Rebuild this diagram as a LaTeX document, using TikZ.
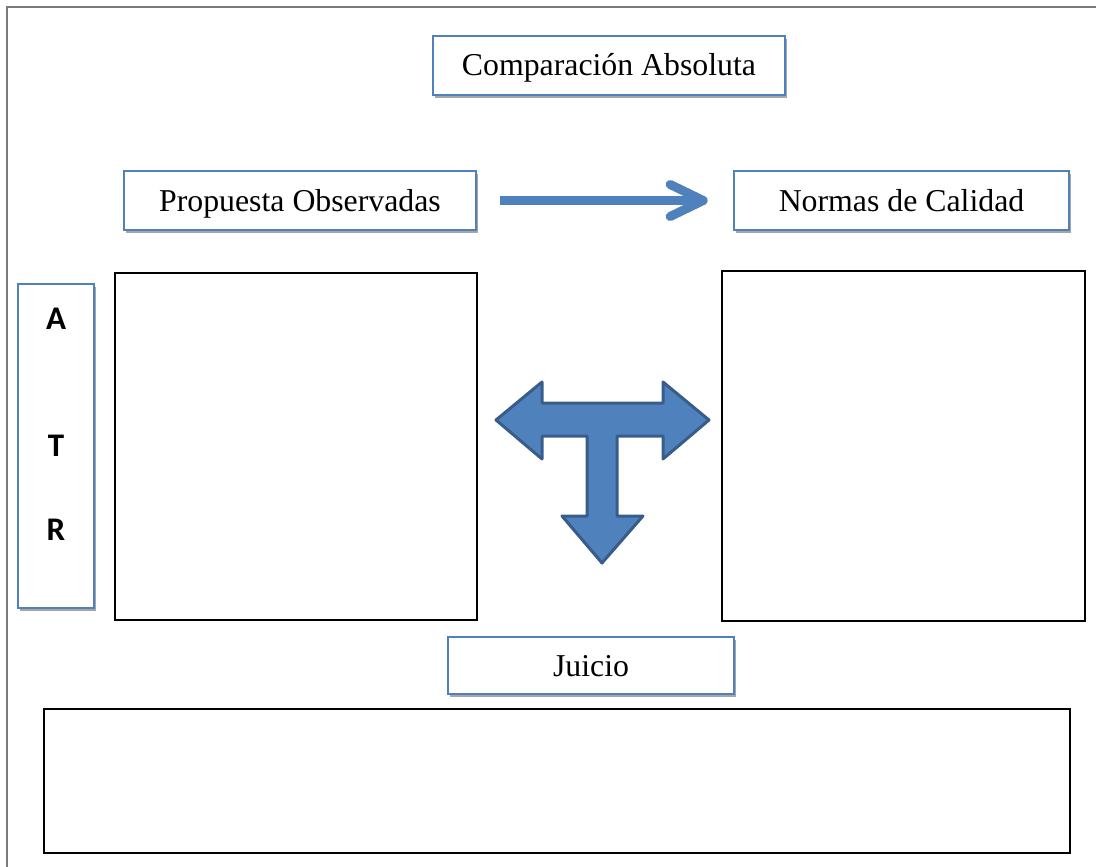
\documentclass[tikz,border=0pt]{standalone}
\usepackage{fontspec}
\setmainfont{Liberation Serif}
\newfontfamily\atrfont{Carlito}
\definecolor{boxblue}{HTML}{4F81BD}
\definecolor{arrowfill}{HTML}{4F81BD}
\definecolor{arrowedge}{HTML}{385D8A}
\definecolor{shadowgray}{HTML}{A6A6A6}
\definecolor{framegray}{HTML}{7A7A7A}
\tikzset{
  bluebox/.style={draw=boxblue, line width=1.6pt, fill=white, inner sep=0pt,
    font=\fontsize{31.8}{38}\selectfont, text height=21pt, text depth=0pt,
    preaction={fill=shadowgray, transform canvas={shift={(1.5pt,-3pt)}}}},
  bigbox/.style={draw=black, line width=2pt, inner sep=0pt},
  atrletter/.style={font=\atrfont\bfseries\fontsize{33}{40}\selectfont, inner sep=0pt},
  flow/.style={draw=boxblue, line width=9pt},
  tarrow/.style={fill=arrowfill, draw=arrowedge, line width=3pt, line join=round}
}
\begin{document}
\begin{tikzpicture}[x=1pt,y=-1pt]
\useasboundingbox (0,0) rectangle (1096,867);
% page frame
\draw[framegray, line width=2.5pt] (1096,7) -- (7,7) -- (7,867);
% title boxes
\node[bluebox, minimum width=352pt, minimum height=59pt] (title) at (609,65.5) {Comparación Absoluta};
\node[bluebox, minimum width=352pt, minimum height=59pt] (po) at (300,200.5) {Propuesta Observadas};
\node[bluebox, minimum width=335pt, minimum height=59pt] (nc) at (901.5,200.5) {Normas de Calidad};
\node[bluebox, minimum width=286pt, minimum height=57pt] (juicio) at (591,665.5) {Juicio};
% arrow between top boxes
\coordinate (tip) at ([xshift=-30pt]nc.west);
\draw[flow] ([xshift=23pt]po.east) -- ([xshift=-3pt]tip);
\draw[flow, line cap=round, line join=round] ([shift={(-33pt,-16pt)}]tip) -- (tip) -- ([shift={(-33pt,16pt)}]tip);
% ATR box
\node[bluebox, minimum width=76pt, minimum height=324pt] (atr) at (56,446) {};
\node[atrletter] (la) at (56,319) {A};
\node[atrletter] (lt) at (56,446) {T};
\node[atrletter] (lr) at (56,530) {R};
% big boxes
\node[bigbox, minimum width=362pt, minimum height=347pt] (left) at (296,446.5) {};
\node[bigbox, minimum width=363pt, minimum height=350pt] (right) at (903.5,446) {};
\node[bigbox, minimum width=1026pt, minimum height=144pt] (bottom) at (557,781) {};
% T-shaped three-way arrow
\draw[tarrow] (496,420) -- (542,382) -- (542,403) -- (663,403) -- (663,382) -- (709,420)
  -- (663,459) -- (663,436) -- (617,436) -- (617,516) -- (643,516) -- (602,563)
  -- (562,516) -- (587,516) -- (587,436) -- (542,436) -- (542,459) -- cycle;
\end{tikzpicture}
\end{document}
